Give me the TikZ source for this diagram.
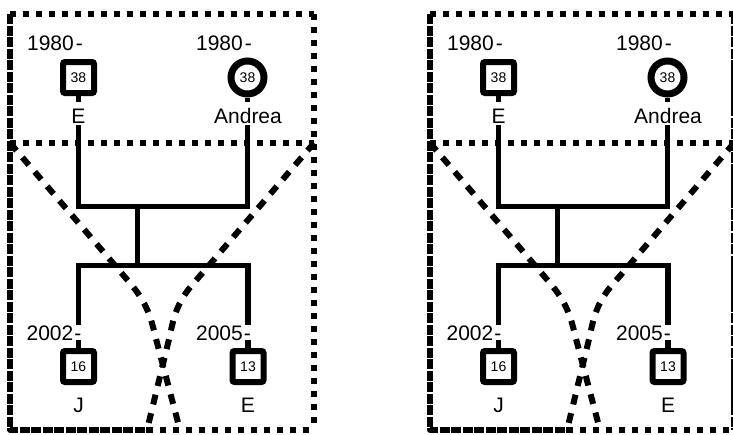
\documentclass[tikz,border=0pt]{standalone}
\usepackage{fontspec}
\setmainfont{Liberation Sans}
\begin{document}
\begin{tikzpicture}[x=1pt,y=-1pt,
  male/.style={draw,line width=6pt,rounded corners=2pt,minimum size=31pt,inner sep=0pt,fill=white,font=\fontsize{14}{14}\selectfont},
  female/.style={circle,draw,line width=7pt,minimum size=33pt,inner sep=0pt,fill=white,font=\fontsize{14}{14}\selectfont},
  lbl/.style={inner sep=0pt,font=\fontsize{21}{21}\selectfont},
  namelbl/.style={lbl,fill=white,inner xsep=1pt,text height=22pt,text depth=1.5pt,anchor=base},
  yearlbl/.style={lbl,fill=white,text height=15pt,text depth=0pt,anchor=base east},
  rel/.style={line width=5.5pt},
  boxdash/.style={line width=5.5pt,dash pattern=on 6pt off 7pt},
  densedash/.style={line width=5.5pt,dash pattern=on 10pt off 1.5pt,line join=round},
  divdash/.style={line width=6pt,dash pattern=on 10pt off 9pt}]
\useasboundingbox (0,0) rectangle (733,434);
\foreach \ox/\p in {0/a,420/b}{
\begin{scope}[xshift=\ox pt]
  % dashed frames
  \draw[boxdash] (10,14) -- (314,14);
  \draw[boxdash] (314,14) -- (314,430);
  \draw[boxdash] (10,143) -- (314,143);
  \draw[boxdash] (147,430) -- (314,430);
  \draw[densedash] (10,14) -- (10,430) -- (147,430);
  \draw[divdash] (10,143) -- (130,283) .. controls (147,303) and (151,318) .. (155,335) -- (180,430);
  \draw[divdash] (314,143) -- (193,284) .. controls (177,302) and (173.5,318) .. (170,335) -- (147,430);
  % people
  \node[male] (pE\p) at (78.5,77.5) {38};
  \node[female] (pA\p) at (247.5,77.5) {38};
  \node[male] (cJ\p) at (78.5,366.5) {16};
  \node[male] (cE\p) at (248,366.5) {13};
  \coordinate (cl\p) at (78.5,206.5);
  \coordinate (cr\p) at (247.5,206.5);
  \coordinate (cm\p) at (137.5,206.5);
  \coordinate (sm\p) at (137.5,265.5);
  \coordinate (sl\p) at (78.5,265.5);
  \coordinate (sr\p) at (248,265.5);
  \draw[rel] (pE\p.south) -- (cl\p) -- (cr\p) -- (pA\p.south);
  \draw[rel] (cm\p) -- (sm\p);
  \draw[rel] (cJ\p.north) -- (sl\p) -- (sr\p) -- (cE\p.north);
  % labels
  \node[lbl,anchor=base east] (yE\p) at (83,50) {1980\kern2pt-};
  \node[lbl,anchor=base east] (yA\p) at (252,50) {1980\kern2pt-};
  \node[namelbl] (nE\p) at (78.5,123.5) {E};
  \node[namelbl] (nA\p) at (248,123.5) {Andrea};
  \node[yearlbl] (yJ\p) at (81.5,340) {2002\kern1pt-};
  \node[yearlbl] (yC\p) at (251,340) {2005\kern1pt-};
  \node[lbl,anchor=base] (nJ\p) at (78.5,412) {J};
  \node[lbl,anchor=base] (nC\p) at (248,412) {E};
\end{scope}
}
\draw[densedash] (734,14) -- (734,430);
\end{tikzpicture}
\end{document}
